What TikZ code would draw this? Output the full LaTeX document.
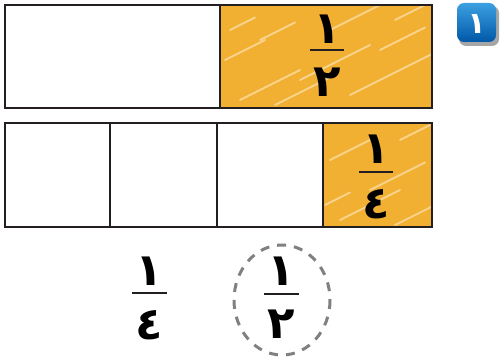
\documentclass[tikz,border=0pt]{standalone}
\usepackage{fontspec}
\usepackage{xcolor}
\newfontfamily\arabicfont[Script=Arabic]{DejaVu Sans}
\TeXXeTstate=1

\definecolor{crayon}{RGB}{242,176,50}
\definecolor{frameline}{RGB}{35,31,32}
\definecolor{ringgray}{RGB}{128,128,128}
\definecolor{badgetop}{RGB}{60,160,225}
\definecolor{badgebot}{RGB}{0,88,168}

\tikzset{
  digit/.style={font=\arabicfont\bfseries\fontsize{45}{45}\selectfont, inner sep=0pt, anchor=base},
  fracbar/.style={line width=2.2pt, frameline},
  cell/.style={draw=frameline, line width=2.8pt},
  streak/.style={white, opacity=0.45, line width=1.8pt, line cap=round},
}

\begin{document}
\begin{tikzpicture}[x=1pt, y=-1pt]
        \useasboundingbox (0,0) rectangle (502,358);

        % shaded parts
        \fill[crayon] (220,5) rectangle (432,108);
        \fill[crayon] (323,123) rectangle (432,227);
        \begin{scope}
            \clip (220,5) rectangle (432,108) (323,123) rectangle (432,227);
            \foreach \x/\y/\l in {225/60/40, 240/100/60, 260/40/35, 300/80/70, 330/30/50,
                                  350/95/90, 380/50/45, 395/20/30, 230/30/25, 275/105/55,
                                  330/160/40, 340/220/60, 370/190/55, 400/140/30, 325/205/25, 395/225/40}
                \draw[streak] (\x,\y) -- ++(\l,-0.5*\l);
        \end{scope}

        % frames
        \draw[cell] (5,5) rectangle (432,108);
        \draw[cell] (220,5) -- (220,108);
        \draw[cell] (5,123) rectangle (432,227);
        \draw[cell] (110,123) -- (110,227);
        \draw[cell] (217,123) -- (217,227);
        \draw[cell] (323,123) -- (323,227);

        % fractions
        \node[digit] (halfnum) at (327,44) {\beginR ١\endR};
        \draw[fracbar] (310,50) -- (344,50);
        \node[digit] (halfden) at (327,97) {\beginR ٢\endR};

        \node[digit] (quartnum) at (376,163) {\beginR ١\endR};
        \draw[fracbar] (359,172) -- (393,172);
        \node[digit] (quartden) at (376,218) {\beginR ٤\endR};

        \node[digit] (ansnum) at (149,285) {\beginR ١\endR};
        \draw[fracbar] (132,293) -- (167,293);
        \node[digit] (ansden) at (149,339) {\beginR ٤\endR};

        \node[digit] (choicenum) at (281,285) {\beginR ١\endR};
        \draw[fracbar] (264,294) -- (299,294);
        \node[digit] (choiceden) at (281,338) {\beginR ٢\endR};

        \draw[ringgray, line width=3pt, dash pattern=on 9pt off 8pt] (282,300) ellipse [x radius=48, y radius=55];

        % exercise badge
        \fill[black!35, rounded corners=7pt] (459,6) rectangle (499,46);
        \shade[top color=badgetop, bottom color=badgebot, rounded corners=7pt] (457,3) rectangle (496,42);
        \node[digit, white, font=\arabicfont\bfseries\fontsize{30}{30}\selectfont] (badge) at (476.5,34) {\beginR ١\endR};
\end{tikzpicture}
\end{document}
